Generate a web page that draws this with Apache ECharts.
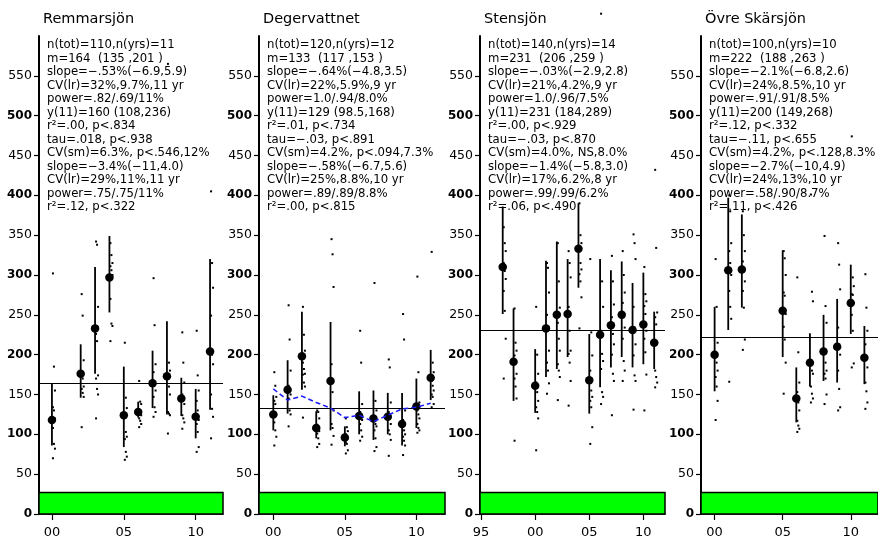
<!DOCTYPE html>
<html><head><meta charset="utf-8">
<script src="https://cdn.jsdelivr.net/npm/echarts@6/dist/echarts.min.js"></script>
<style>html,body{margin:0;padding:0;background:#fff}#c{width:878px;height:540px}</style>
</head><body><div id="c"></div>
<script>
// ---------- DATA ----------
const lakeNames = ['Remmarsjön', 'Degervattnet', 'Stensjön', 'Övre Skärsjön'];

const remYears = [2000, 2002, 2003, 2004, 2005, 2006, 2007, 2008, 2009, 2010, 2011];
const remMean  = [118, 176, 233, 297, 124, 128, 164, 173, 145, 122, 204];
const remLow   = [86, 146, 176, 253, 84, 121, 133, 125, 123, 95, 131];
const remHigh  = [164, 213, 310, 349, 185, 141, 205, 242, 171, 157, 320];
const remSamples = [
  [302, 185, 155, 134, 130, 120, 108, 88, 82, 70],
  [276, 249, 193, 178, 170, 160, 157, 152, 147, 109],
  [342, 338, 260, 226, 217, 174, 170, 157, 150, 120],
  [340, 325, 315, 311, 306, 300, 270, 239, 236, 217],
  [215, 146, 133, 124, 103, 97, 94, 78, 72, 68],
  [167, 141, 138, 130, 126, 124, 120, 117, 113, 109],
  [296, 237, 188, 178, 163, 155, 147, 134, 128, 122],
  [565, 190, 180, 172, 160, 150, 128, 126, 124, 101],
  [228, 190, 165, 150, 145, 138, 124, 120, 115, 107],
  [230, 174, 155, 142, 130, 118, 113, 103, 84, 78],
  [405, 315, 284, 249, 200, 188, 150, 132, 122, 95]
];
const remGrand = 164;
const remStats = [
  'n(tot)=110,n(yrs)=11', 'm=164  (135 ,201 )', 'slope=−.53%(−6.9,5.9)', 'CV(lr)=32%,9.7%,11 yr',
  'power=.82/.69/11%', 'y(11)=160 (108,236)', 'r²=.00, p<.834', 'tau=.018, p<.938',
  'CV(sm)=6.3%, p<.546,12%', 'slope=−3.4%(−11,4.0)', 'CV(lr)=29%,11%,11 yr', 'power=.75/.75/11%', 'r²=.12, p<.322'
];

const degYears = [2000, 2001, 2002, 2003, 2004, 2005, 2006, 2007, 2008, 2009, 2010, 2011];
const degMean  = [125, 156, 198, 108, 167, 96, 123, 120, 122, 113, 135, 171];
const degLow   = [105, 126, 156, 95, 105, 85, 100, 93, 100, 86, 108, 143];
const degHigh  = [149, 193, 254, 129, 241, 110, 154, 155, 152, 152, 170, 206];
const degSmooth = [157, 143, 148, 140, 133, 121, 124, 116, 124, 132, 134, 139];
const degSamples = [
  [178, 161, 147, 142, 138, 125, 115, 105, 97, 86],
  [262, 219, 180, 161, 155, 150, 145, 130, 125, 110],
  [260, 225, 205, 190, 182, 176, 175, 165, 160, 121],
  [130, 128, 120, 112, 108, 104, 101, 95, 88, 84],
  [345, 326, 285, 188, 153, 130, 113, 108, 98, 87],
  [120, 109, 104, 100, 97, 95, 90, 88, 80, 76],
  [230, 190, 138, 128, 121, 118, 113, 105, 97, 92],
  [290, 142, 130, 120, 113, 110, 105, 95, 84, 79],
  [194, 184, 140, 128, 121, 113, 105, 100, 93, 73],
  [251, 219, 130, 118, 105, 100, 97, 92, 86, 74],
  [298, 178, 140, 130, 125, 120, 113, 108, 105, 102],
  [329, 190, 178, 167, 161, 155, 150, 147, 138, 134]
];
const degGrand = 133;
const degStats = [
  'n(tot)=120,n(yrs)=12', 'm=133  (117 ,153 )', 'slope=−.64%(−4.8,3.5)', 'CV(lr)=22%,5.9%,9 yr',
  'power=1.0/.94/8.0%', 'y(11)=129 (98.5,168)', 'r²=.01, p<.734', 'tau=−.03, p<.891',
  'CV(sm)=4.2%, p<.094,7.3%', 'slope=−.58%(−6.7,5.6)', 'CV(lr)=25%,8.8%,10 yr', 'power=.89/.89/8.8%', 'r²=.00, p<.815'
];

const stenYears = [1997, 1998, 2000, 2001, 2002, 2003, 2004, 2005, 2006, 2007, 2008, 2009, 2010, 2011];
const stenMean  = [310, 191, 161, 233, 250, 251, 333, 168, 225, 237, 250, 231, 238, 215];
const stenLow   = [251, 142, 127, 172, 182, 197, 284, 126, 159, 184, 197, 184, 188, 182];
const stenHigh  = [386, 258, 207, 318, 342, 320, 390, 226, 320, 306, 317, 290, 303, 254];
const stenSamples = [
  [360, 340, 330, 315, 305, 295, 280, 255, 220, 170],
  [258, 215, 205, 199, 190, 176, 170, 160, 145, 92],
  [260, 200, 176, 165, 153, 142, 134, 128, 120, 80],
  [315, 309, 278, 250, 232, 205, 190, 180, 164, 151],
  [340, 292, 259, 240, 220, 205, 188, 180, 172, 143],
  [330, 315, 297, 260, 230, 205, 201, 190, 167, 136],
  [390, 350, 340, 330, 315, 307, 301, 292, 272, 233],
  [320, 228, 199, 180, 155, 147, 142, 134, 109, 88],
  [628, 292, 260, 230, 201, 192, 182, 153, 147, 138],
  [324, 292, 263, 247, 226, 213, 200, 176, 167, 124],
  [330, 300, 278, 265, 247, 234, 220, 192, 180, 167],
  [351, 340, 320, 260, 234, 213, 199, 174, 167, 131],
  [310, 276, 267, 261, 251, 230, 220, 203, 175, 130],
  [432, 334, 253, 247, 238, 215, 180, 172, 165, 159]
];
const stenGrand = 231;
const stenStats = [
  'n(tot)=140,n(yrs)=14', 'm=231  (206 ,259 )', 'slope=−.03%(−2.9,2.8)', 'CV(lr)=21%,4.2%,9 yr',
  'power=1.0/.96/7.5%', 'y(11)=231 (184,289)', 'r²=.00, p<.929', 'tau=−.03, p<.870',
  'CV(sm)=4.0%, NS,8.0%', 'slope=−1.4%(−5.8,3.0)', 'CV(lr)=17%,6.2%,8 yr', 'power=.99/.99/6.2%', 'r²=.06, p<.490'
];

const ovrYears = [2000, 2001, 2002, 2005, 2006, 2007, 2008, 2009, 2010, 2011];
const ovrMean  = [200, 306, 307, 255, 145, 190, 204, 210, 265, 196];
const ovrLow   = [154, 231, 259, 197, 115, 160, 167, 165, 226, 163];
const ovrHigh  = [260, 397, 376, 331, 184, 227, 250, 270, 313, 236];
const ovrSamples = [
  [320, 260, 215, 200, 190, 180, 172, 160, 142, 118],
  [400, 380, 340, 330, 315, 300, 280, 260, 245, 166],
  [380, 350, 330, 317, 309, 292, 280, 259, 219, 206],
  [330, 321, 300, 278, 274, 251, 235, 219, 190, 151],
  [297, 203, 165, 153, 140, 130, 117, 111, 107, 103],
  [401, 279, 267, 190, 180, 176, 160, 151, 145, 140],
  [349, 261, 240, 205, 190, 180, 176, 170, 150, 138],
  [340, 313, 282, 234, 213, 200, 180, 157, 134, 130],
  [474, 297, 286, 276, 275, 265, 250, 230, 189, 184],
  [301, 259, 230, 213, 195, 184, 165, 154, 140, 132]
];
const ovrGrand = 222;
const ovrStats = [
  'n(tot)=100,n(yrs)=10', 'm=222  (188 ,263 )', 'slope=−2.1%(−6.8,2.6)', 'CV(lr)=24%,8.5%,10 yr',
  'power=.91/.91/8.5%', 'y(11)=200 (149,268)', 'r²=.12, p<.332', 'tau=−.11, p<.655',
  'CV(sm)=4.2%, p<.128,8.3%', 'slope=−2.7%(−10,4.9)', 'CV(lr)=24%,13%,10 yr', 'power=.58/.90/8.7%', 'r²=.11, p<.426'
];

const yTickValues = [0, 50, 100, 150, 200, 250, 300, 350, 400, 450, 500, 550];
const xTickValuesA = [2000, 2005, 2010];
const xTickLabelsA = ['00', '05', '10'];
const xTickValuesB = [1995, 2000, 2005, 2010];
const xTickLabelsB = ['95', '00', '05', '10'];
const bandTop = 27;   // green reference band upper value
const yMax = 600;

// ---------- LAYOUT / STYLE ----------
const FONT = 'DejaVu Sans';
const GRID_TOP = 36, GRID_H = 478;
const layout = [
  { left: 39,  width: 184, xMin: 1999.1, xMax: 2011.9 },
  { left: 259, width: 186, xMin: 1999.0, xMax: 2012.0 },
  { left: 480, width: 185, xMin: 1994.9, xMax: 2012.0 },
  { left: 701, width: 186, xMin: 1999.0, xMax: 2012.0 }
];

const panels = [
  { years: remYears, mean: remMean, low: remLow, high: remHigh, samples: remSamples, grand: remGrand, stats: remStats, tv: xTickValuesA, tl: xTickLabelsA },
  { years: degYears, mean: degMean, low: degLow, high: degHigh, samples: degSamples, grand: degGrand, stats: degStats, tv: xTickValuesA, tl: xTickLabelsA, smooth: degSmooth },
  { years: stenYears, mean: stenMean, low: stenLow, high: stenHigh, samples: stenSamples, grand: stenGrand, stats: stenStats, tv: xTickValuesB, tl: xTickLabelsB },
  { years: ovrYears, mean: ovrMean, low: ovrLow, high: ovrHigh, samples: ovrSamples, grand: ovrGrand, stats: ovrStats, tv: xTickValuesA, tl: xTickLabelsA }
];

const grid = [], xAxis = [], yAxis = [], series = [], graphic = [];

panels.forEach((p, i) => {
  const L = layout[i];
  grid.push({ left: L.left, top: GRID_TOP, width: L.width, height: GRID_H, containLabel: false });
  xAxis.push({
    gridIndex: i, type: 'value', min: L.xMin, max: L.xMax,
    axisLine: { show: true, onZero: false, lineStyle: { color: '#000', width: 1.5 } },
    axisTick: { show: true, customValues: p.tv, length: 6, lineStyle: { color: '#000', width: 1.2 } },
    axisLabel: {
      customValues: p.tv, margin: 12, color: '#000', fontSize: 13, fontFamily: FONT,
      formatter: v => { const k = p.tv.indexOf(Math.round(v)); return k >= 0 ? p.tl[k] : ''; }
    },
    splitLine: { show: false }
  });
  yAxis.push({
    gridIndex: i, type: 'value', min: 0, max: yMax,
    axisLine: { show: true, lineStyle: { color: '#000', width: 2 } },
    axisTick: { show: true, customValues: yTickValues, length: 5, lineStyle: { color: '#000', width: 1.2 } },
    axisLabel: {
      customValues: yTickValues, margin: 7, color: '#000', fontFamily: FONT,
      formatter: v => (v % 100 === 0 ? '{b|' + v + '}' : '{n|' + v + '}'),
      rich: {
        b: { fontWeight: 'bold', fontSize: 12, fontFamily: FONT, color: '#000' },
        n: { fontSize: 12.5, fontFamily: FONT, color: '#000' }
      }
    },
    splitLine: { show: false }
  });

  // individual samples
  const dots = [];
  p.samples.forEach((arr, k) => arr.forEach((v, j) => {
    dots.push({ value: [p.years[k], v], symbolOffset: [1 + (j % 3), 0] });
  }));
  series.push({
    type: 'scatter', xAxisIndex: i, yAxisIndex: i, data: dots, symbol: 'rect', symbolSize: 2,
    itemStyle: { color: '#000', opacity: 1 }, clip: false, silent: true, z: 2,
    markArea: {
      silent: true,
      itemStyle: { color: '#00ff00', borderColor: '#000', borderWidth: 1.5, opacity: 1 },
      data: [[{ coord: [L.xMin, 0] }, { coord: [L.xMax, bandTop] }]]
    }
  });

  // confidence bars
  series.push({
    type: 'custom', xAxisIndex: i, yAxisIndex: i, silent: true, z: 3,
    data: p.years.map((y, k) => [y, p.low[k], p.high[k]]),
    encode: { x: 0, y: [1, 2] },
    renderItem: (params, api) => {
      const a = api.coord([api.value(0), api.value(1)]);
      const b = api.coord([api.value(0), api.value(2)]);
      return { type: 'line', shape: { x1: a[0], y1: a[1], x2: b[0], y2: b[1] }, style: { stroke: '#000', lineWidth: 1.8 } };
    }
  });

  // yearly means + grand mean line
  series.push({
    type: 'scatter', xAxisIndex: i, yAxisIndex: i, silent: true, z: 4,
    data: p.years.map((y, k) => [y, p.mean[k]]), symbol: 'circle', symbolSize: 8.5,
    itemStyle: { color: '#000', opacity: 1 },
    markLine: {
      silent: true, symbol: ['none', 'none'], label: { show: false },
      lineStyle: { color: '#000', width: 1.2, type: 'solid', opacity: 1 },
      data: [{ yAxis: p.grand }]
    }
  });

  if (p.smooth) {
    series.push({
      type: 'line', xAxisIndex: i, yAxisIndex: i, silent: true, z: 5, symbol: 'none',
      data: p.years.map((y, k) => [y, p.smooth[k]]),
      lineStyle: { color: '#1a1aff', width: 1.5, type: [5, 3] }
    });
  }

  graphic.push({
    type: 'text', x: L.left + 4, y: 19, silent: true,
    style: { text: lakeNames[i], fontSize: 14.5, fontFamily: FONT, fill: '#000', verticalAlign: 'middle', align: 'left' }
  });
  graphic.push({
    type: 'text', x: L.left + 8, y: 38.3, silent: true,
    style: { text: p.stats.join('\n'), fontSize: 11.7, lineHeight: 13.5, fontFamily: FONT, fill: '#000', verticalAlign: 'top', align: 'left' }
  });
});

const chart = echarts.init(document.getElementById('c'), null, { renderer: 'canvas' });
chart.setOption({ animation: false, backgroundColor: '#fff', grid, xAxis, yAxis, series, graphic });
</script></body></html>
